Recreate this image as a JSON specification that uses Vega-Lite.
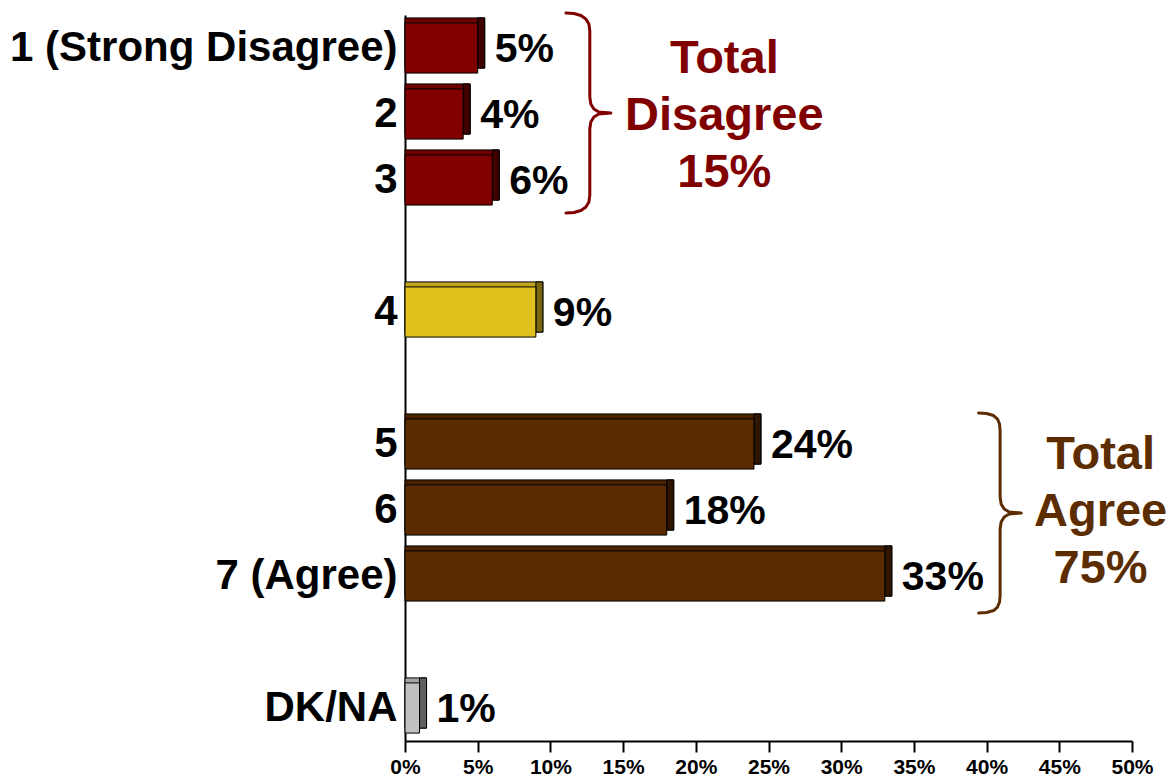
{
  "$schema": "https://vega.github.io/schema/vega-lite/v6.json",
  "autosize": {"type": "none"},
  "padding": {"left": 405, "top": 15, "right": 40, "bottom": 41},
  "width": 727,
  "height": 726,
  "background": "white",
  "config": {
    "view": {"stroke": null},
    "font": "Liberation Sans",
    "axisX": {"domainColor": "black", "domainWidth": 2, "tickColor": "black", "tickWidth": 2, "tickSize": 11, "labelFontSize": 21, "labelFontWeight": "bold", "labelColor": "black", "labelPadding": 4, "labelFlush": false, "labelOverlap": false, "grid": false, "title": null, "labelFont": "Liberation Sans"},
    "axisY": {"domainColor": "black", "domainWidth": 2, "ticks": false, "labelFontSize": 42, "labelFontWeight": "bold", "labelColor": "black", "labelPadding": 8, "labelLimit": 1000, "grid": false, "title": null, "labelFont": "Liberation Sans"},
    "legend": {"disable": true}
  },
  "datasets": {
    "bars": [
      {"cat": "1 (Strong Disagree)", "v": 5, "g": "disagree", "label": "5%"},
      {"cat": "2", "v": 4, "g": "disagree", "label": "4%"},
      {"cat": "3", "v": 6, "g": "disagree", "label": "6%"},
      {"cat": "4", "v": 9, "g": "neutral", "label": "9%"},
      {"cat": "5", "v": 24, "g": "agree", "label": "24%"},
      {"cat": "6", "v": 18, "g": "agree", "label": "18%"},
      {"cat": "7 (Agree)", "v": 33, "g": "agree", "label": "33%"},
      {"cat": "DK/NA", "v": 1, "g": "dkna", "label": "1%"}
    ],
    "notes": [
      {"cat": "2", "x": 21.96, "g": "disagree", "text": ["Total", "Disagree", "15%"]},
      {"cat": "6", "x": 47.84, "g": "agree", "text": ["Total", "Agree", "75%"]}
    ],
    "braces": [
      {"b": "disagree", "i": 1, "x": 11.07, "y": -0.03},
      {"b": "disagree", "i": 2, "x": 11.62, "y": -0.023},
      {"b": "disagree", "i": 3, "x": 12.10, "y": 0.008},
      {"b": "disagree", "i": 4, "x": 12.44, "y": 0.061},
      {"b": "disagree", "i": 5, "x": 12.65, "y": 0.136},
      {"b": "disagree", "i": 6, "x": 12.71, "y": 0.242},
      {"b": "disagree", "i": 7, "x": 12.71, "y": 1.242},
      {"b": "disagree", "i": 8, "x": 12.78, "y": 1.348},
      {"b": "disagree", "i": 9, "x": 12.99, "y": 1.424},
      {"b": "disagree", "i": 10, "x": 13.33, "y": 1.470},
      {"b": "disagree", "i": 11, "x": 14.16, "y": 1.485},
      {"b": "disagree", "i": 12, "x": 13.33, "y": 1.5},
      {"b": "disagree", "i": 13, "x": 12.99, "y": 1.545},
      {"b": "disagree", "i": 14, "x": 12.78, "y": 1.621},
      {"b": "disagree", "i": 15, "x": 12.71, "y": 1.727},
      {"b": "disagree", "i": 16, "x": 12.71, "y": 2.727},
      {"b": "disagree", "i": 17, "x": 12.65, "y": 2.833},
      {"b": "disagree", "i": 18, "x": 12.44, "y": 2.909},
      {"b": "disagree", "i": 19, "x": 12.10, "y": 2.962},
      {"b": "disagree", "i": 20, "x": 11.62, "y": 2.992},
      {"b": "disagree", "i": 21, "x": 11.07, "y": 3.0},
      {"b": "agree", "i": 1, "x": 39.45, "y": 6.031},
      {"b": "agree", "i": 2, "x": 40.00, "y": 6.038},
      {"b": "agree", "i": 3, "x": 40.48, "y": 6.069},
      {"b": "agree", "i": 4, "x": 40.75, "y": 6.122},
      {"b": "agree", "i": 5, "x": 40.89, "y": 6.197},
      {"b": "agree", "i": 6, "x": 40.93, "y": 6.303},
      {"b": "agree", "i": 7, "x": 40.93, "y": 7.303},
      {"b": "agree", "i": 8, "x": 41.00, "y": 7.409},
      {"b": "agree", "i": 9, "x": 41.21, "y": 7.485},
      {"b": "agree", "i": 10, "x": 41.55, "y": 7.531},
      {"b": "agree", "i": 11, "x": 42.38, "y": 7.546},
      {"b": "agree", "i": 12, "x": 41.55, "y": 7.561},
      {"b": "agree", "i": 13, "x": 41.21, "y": 7.606},
      {"b": "agree", "i": 14, "x": 41.00, "y": 7.682},
      {"b": "agree", "i": 15, "x": 40.93, "y": 7.788},
      {"b": "agree", "i": 16, "x": 40.93, "y": 8.788},
      {"b": "agree", "i": 17, "x": 40.89, "y": 8.894},
      {"b": "agree", "i": 18, "x": 40.75, "y": 8.970},
      {"b": "agree", "i": 19, "x": 40.48, "y": 9.023},
      {"b": "agree", "i": 20, "x": 40.00, "y": 9.053},
      {"b": "agree", "i": 21, "x": 39.45, "y": 9.061}
    ]
  },
  "layer": [
    {
      "data": {"name": "bars"},
      "encoding": {
        "y": {
          "field": "cat", "type": "nominal",
          "scale": {"domain": ["1 (Strong Disagree)", "2", "3", " ", "4", "  ", "5", "6", "7 (Agree)", "   ", "DK/NA"], "paddingInner": 0.24, "paddingOuter": 0.12},
          "axis": {}
        }
      },
      "layer": [
        {
          "mark": {"type": "bar", "stroke": "black", "strokeWidth": 1, "xOffset": 7, "x2Offset": 0, "yOffset": -5, "y2Offset": -5},
          "encoding": {
            "x": {"field": "v", "type": "quantitative", "stack": null, "scale": {"domain": [0, 50], "nice": false}, "axis": {"values": [0, 5, 10, 15, 20, 25, 30, 35, 40, 45, 50], "labelExpr": "datum.value + '%'"}},
            "color": {"field": "g", "type": "nominal", "scale": {"domain": ["disagree", "neutral", "agree", "dkna"], "range": ["#6e0000", "#c2a31a", "#4a2200", "#a4a4a4"]}}
          }
        },
        {
          "mark": {"type": "bar", "stroke": "black", "strokeWidth": 1, "xOffset": 0, "x2Offset": 7, "yOffset": -5, "y2Offset": -5},
          "encoding": {
            "x": {"field": "v", "type": "quantitative", "stack": null},
            "x2": {"field": "v"},
            "color": {"field": "g", "type": "nominal", "scale": {"domain": ["disagree", "neutral", "agree", "dkna"], "range": ["#400000", "#7a6810", "#2e1500", "#5f5f5f"]}}
          }
        },
        {
          "mark": {"type": "bar", "stroke": "black", "strokeWidth": 1},
          "encoding": {
            "x": {"field": "v", "type": "quantitative", "stack": null},
            "color": {"field": "g", "type": "nominal", "scale": {"domain": ["disagree", "neutral", "agree", "dkna"], "range": ["#800000", "#e2c11f", "#5a2a00", "#c0c0c0"]}}
          }
        },
        {
          "mark": {"type": "text", "align": "left", "baseline": "middle", "dx": 17, "dy": 2, "fontSize": 41, "fontWeight": "bold", "color": "black", "font": "Liberation Sans"},
          "encoding": {
            "x": {"field": "v", "type": "quantitative"},
            "text": {"field": "label"}
          }
        },
        {
          "data": {"name": "notes"},
          "mark": {"type": "text", "align": "center", "baseline": "middle", "fontSize": 47, "fontWeight": "bold", "lineHeight": 57, "font": "Liberation Sans", "dy": -55},
          "encoding": {
            "x": {"field": "x", "type": "quantitative"},
            "text": {"field": "text"},
            "color": {"field": "g", "type": "nominal", "scale": {"domain": ["disagree", "agree"], "range": ["#800000", "#5c2d00"]}}
          }
        }
      ],
      "resolve": {"scale": {"color": "independent"}}
    },
    {
      "data": {"name": "braces"},
      "mark": {"type": "line", "strokeWidth": 3, "strokeCap": "round", "strokeJoin": "round"},
      "encoding": {
        "x": {"field": "x", "type": "quantitative", "scale": {"domain": [0, 50], "nice": false}, "axis": {"values": [0, 5, 10, 15, 20, 25, 30, 35, 40, 45, 50], "labelExpr": "datum.value + '%'"}},
        "y": {"field": "y", "type": "quantitative", "scale": {"domain": [0, 11], "reverse": true, "nice": false, "zero": false}, "axis": null},
        "order": {"field": "i", "type": "quantitative"},
        "detail": {"field": "b"},
        "color": {"field": "b", "type": "nominal", "scale": {"domain": ["disagree", "agree"], "range": ["#800000", "#5c2d00"]}}
      }
    }
  ],
  "resolve": {"scale": {"y": "independent", "color": "independent"}}
}
